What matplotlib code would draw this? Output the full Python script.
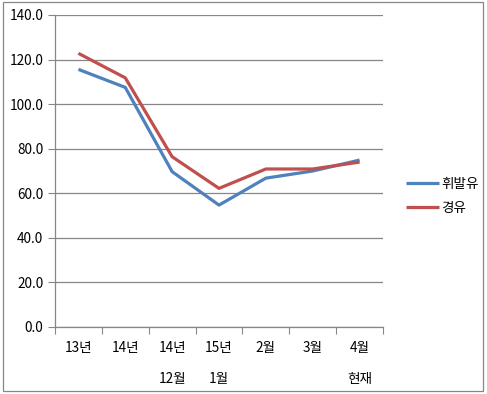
import matplotlib
matplotlib.use("Agg")
import matplotlib.pyplot as plt
from matplotlib.patches import Rectangle

plt.rcParams['font.family'] = ['Noto Sans CJK KR', 'DejaVu Sans']

categories = ["13년", "14년", "14년\n12월", "15년\n1월", "2월", "3월", "4월\n현재"]
gasoline = [115.6, 107.5, 69.7, 54.7, 66.8, 70.0, 74.9]
diesel = [122.8, 111.8, 76.4, 62.2, 70.9, 70.9, 74.0]
yticks = [0, 20, 40, 60, 80, 100, 120, 140]

FS = 9.8
W, H = 487, 394
fig = plt.figure(figsize=(W / 100, H / 100), dpi=100)
ax = fig.add_axes([55 / W, 1 - 327 / H, (383 - 55) / W, (327 - 15) / H])

x = list(range(len(categories)))
ax.plot(x, gasoline, color="#4F81BD", lw=2.3, label="휘발유", solid_capstyle="butt")
ax.plot(x, diesel, color="#C0504D", lw=2.3, label="경유", solid_capstyle="butt")

ax.set_xlim(-0.5, len(categories) - 0.5)
ax.set_ylim(0, 140)
ax.set_yticks(yticks)
ax.set_yticklabels([f"{v:.1f}" for v in yticks], fontsize=FS)
ax.yaxis.grid(True, color="#878787", lw=0.9)
ax.set_axisbelow(True)

ax.set_xticks([i - 0.5 for i in range(len(categories) + 1)])
ax.set_xticklabels([])
ax.tick_params(axis="x", length=5, color="#878787")
ax.tick_params(axis="y", length=5, color="#878787", pad=3.5)

for i, lab in enumerate(categories):
    parts = lab.split("\n")
    for j, p in enumerate(parts):
        ax.annotate(p, xy=(i, 0), xycoords=("data", "axes fraction"),
                    xytext=(0, -21 - j * 31), textcoords="offset pixels",
                    ha="center", va="center", fontsize=FS)

for s in ["top", "right"]:
    ax.spines[s].set_visible(False)
for s in ["left", "bottom"]:
    ax.spines[s].set_color("#878787")
    ax.spines[s].set_linewidth(0.9)

fig.legend(loc="center left", bbox_to_anchor=(394 / W, 1 - 196 / H), frameon=False,
           fontsize=FS, handlelength=2.4, handletextpad=0.2, labelspacing=0.75)

fig.patches.append(Rectangle((2.5 / W, 1 - 390.5 / H), (482.5 - 2.5) / W, (390.5 - 1.5) / H,
                             transform=fig.transFigure, fill=False, edgecolor="#878787", lw=0.9))

fig.savefig("out.png", dpi=100)
